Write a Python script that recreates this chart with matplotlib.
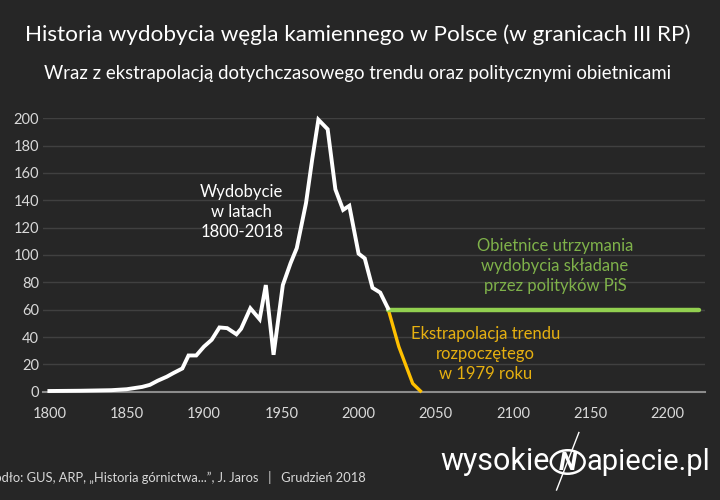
import matplotlib.pyplot as plt
from matplotlib.patches import Circle

# =========================
# 1. Data
# =========================

years_hist = [1800, 1810, 1820, 1830, 1840, 1850, 1860, 1865, 1870, 1876, 1880, 1886,
              1890, 1895, 1900, 1905, 1910, 1915, 1921, 1924, 1930, 1936, 1940, 1945,
              1951, 1956, 1960, 1966, 1970, 1974, 1980, 1985, 1990, 1994, 2000, 2004,
              2009, 2014, 2019]
prod_hist = [0.5, 0.6, 0.7, 0.9, 1.1, 1.8, 3.5, 5, 8, 11, 13.5, 17,
             26.5, 26.5, 33, 38, 47, 46.5, 42, 46, 61, 53, 78, 27,
             78, 94, 105, 138, 170, 199, 192, 148, 133, 136, 101, 97.5,
             76, 72.5, 61]

years_trend = [2019, 2026, 2035, 2040]
prod_trend = [61, 33, 6, 0.5]

years_promise = [2019, 2220]
prod_promise = [60, 60]

x_ticks = [1800, 1850, 1900, 1950, 2000, 2050, 2100, 2150, 2200]
y_ticks = [0, 20, 40, 60, 80, 100, 120, 140, 160, 180, 200]

BG = "#262626"
GRID = "#404040"
TXT = "#d9d9d9"
GREEN = "#92d050"
GOLD = "#ffc000"
FONT = "Lato"

# =========================
# 2. Figure
# =========================

fig = plt.figure(figsize=(7.2, 5.0), dpi=100, facecolor=BG)
ax = fig.add_axes([0.060, 0.2166, 0.919, 0.5468], facecolor=BG)

ax.plot(years_hist, prod_hist, color="white", lw=2.8, solid_joinstyle="miter",
        clip_on=False, zorder=4)
ax.plot(years_trend, prod_trend, color=GOLD, lw=2.4, clip_on=False, zorder=3)
ax.plot(years_promise, prod_promise, color=GREEN, lw=3.2, clip_on=False, zorder=3,
        solid_capstyle="round")

ax.set_xlim(1796, 2224)
ax.set_ylim(0, 200)
ax.set_xticks(x_ticks)
ax.set_yticks(y_ticks)
ax.grid(axis="y", color=GRID, lw=1)
ax.set_axisbelow(True)
for s in ["top", "right", "left"]:
    ax.spines[s].set_visible(False)
ax.spines["bottom"].set_color("#8c8c8c")
ax.spines["bottom"].set_linewidth(1.5)
ax.tick_params(length=0, colors=TXT, labelsize=10.5)
ax.tick_params(axis="x", pad=11)
ax.tick_params(axis="y", pad=3)
for lab in ax.get_xticklabels() + ax.get_yticklabels():
    lab.set_fontfamily(FONT)

# annotations
ax.text(1924.5, 131.5, "Wydobycie\nw latach\n1800-2018", color="white", fontsize=12,
        family=FONT, ha="center", va="center", linespacing=1.3)
ax.text(2127, 92, "Obietnice utrzymania\nwydobycia składane\nprzez polityków PiS",
        color="#7fb24a", fontsize=12, family=FONT, ha="center", va="center",
        linespacing=1.3)
ax.text(2082, 27.5, "Ekstrapolacja trendu\nrozpoczętego\nw 1979 roku",
        color="#e6b010", fontsize=12, family=FONT, ha="center", va="center",
        linespacing=1.3)

# titles
fig.text(0.497, 0.930, "Historia wydobycia węgla kamiennego w Polsce (w granicach III RP)",
         color="white", fontsize=16.2, family=FONT, ha="center", va="center")
fig.text(0.497, 0.853, "Wraz z ekstrapolacją dotychczasowego trendu oraz politycznymi obietnicami",
         color="white", fontsize=13.4, family=FONT, ha="center", va="center")

# footer
fig.text(-0.025, 0.046, "Źródło: GUS, ARP, „Historia górnictwa...”, J. Jaros   |   Grudzień 2018",
         color=TXT, fontsize=9.3, family=FONT, ha="left", va="center")

# logo
fig.text(0.764, 0.077, "wysokie", color="white", fontsize=22, family="Roboto",
         ha="right", va="center")
fig.text(0.815, 0.077, "apiecie.pl", color="white", fontsize=21, family="Roboto",
         ha="left", va="center")
fig.patches.append(Circle((0.7885, 0.076), 0.0235, transform=fig.transFigure,
                          fill=False, ec="white", lw=1.8))
fig.text(0.7885, 0.074, "N", color="white", fontsize=19, family="Roboto",
         weight="bold", style="italic", ha="center", va="center")
fig.lines.append(plt.Line2D([0.773, 0.804], [0.02, 0.135], transform=fig.transFigure,
                            color="white", lw=1.0))

fig.savefig("out.png", dpi=100, facecolor=BG)
